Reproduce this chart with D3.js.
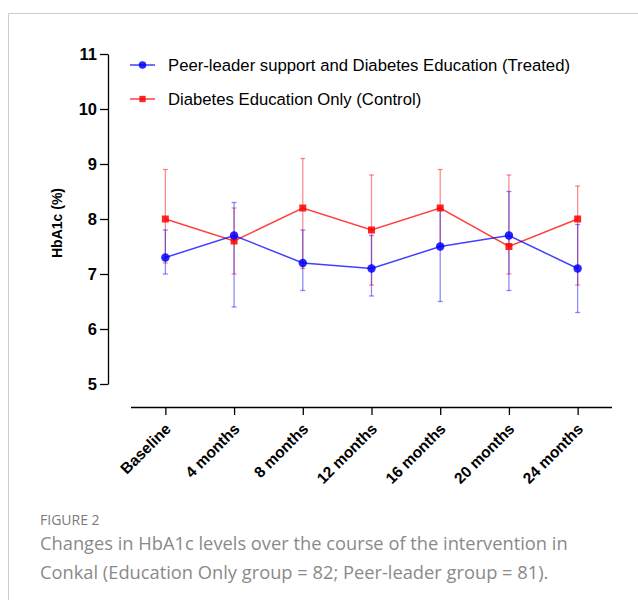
<!DOCTYPE html>
<html>
<head>
<meta charset="utf-8">
<script src="https://cdn.jsdelivr.net/npm/d3@7"></script>
<style>
  html, body { margin: 0; padding: 0; background: #fff; }
  svg { display: block; }
</style>
</head>
<body>
<svg id="chart" width="638" height="600"></svg>
<script>
// Time points of the intervention
const timepoints = ["Baseline", "4 months", "8 months", "12 months", "16 months", "20 months", "24 months"];

// Peer-leader support and Diabetes Education (Treated): mean, lower, upper
const treatedMean  = [7.3, 7.7, 7.2, 7.1, 7.5, 7.7, 7.1];
const treatedLow   = [7.0, 6.4, 6.7, 6.6, 6.5, 6.7, 6.3];
const treatedHigh  = [7.8, 8.3, 7.8, 7.7, 8.2, 8.5, 7.9];

// Diabetes Education Only (Control): mean, lower, upper
const controlMean  = [8.0, 7.6, 8.2, 7.8, 8.2, 7.5, 8.0];
const controlLow   = [7.2, 7.0, 7.1, 6.8, 7.5, 7.0, 6.8];
const controlHigh  = [8.9, 8.2, 9.1, 8.8, 8.9, 8.8, 8.6];

const yTicks = [5, 6, 7, 8, 9, 10, 11];

const seriesNames = [
  "Peer-leader support and Diabetes Education (Treated)",
  "Diabetes Education Only (Control)"
];

const series = [
  { name: seriesNames[1], mean: controlMean, low: controlLow, high: controlHigh, color: "#ff0000", shape: "square" },
  { name: seriesNames[0], mean: treatedMean, low: treatedLow, high: treatedHigh, color: "#0000ff", shape: "circle" }
];

const svg = d3.select("#chart");

// Panel frame
svg.append("path")
  .attr("d", "M8.5,600 L8.5,13.5 L638,13.5")
  .attr("fill", "none")
  .attr("stroke", "#cccccc")
  .attr("stroke-width", 1);

const x = d3.scalePoint().domain(timepoints).range([131, 612]).padding(0.5);
const y = d3.scaleLinear().domain([5, 11]).range([384, 54]);

// Y axis
const yAxis = svg.append("g")
  .attr("transform", "translate(108,0)")
  .call(d3.axisLeft(y).tickValues(yTicks).tickFormat(d3.format("d")).tickSize(8).tickSizeOuter(0));
yAxis.select(".domain").attr("stroke", "#000").attr("stroke-width", 1.3);
yAxis.selectAll(".tick line").attr("stroke", "#000").attr("stroke-width", 1.3);
yAxis.selectAll(".tick text")
  .attr("x", -11)
  .attr("font-family", "Liberation Sans, Arial, sans-serif")
  .attr("font-size", 16.5)
  .attr("font-weight", "bold")
  .attr("fill", "#000");

// X axis
const xAxis = svg.append("g")
  .attr("transform", "translate(0,407)")
  .call(d3.axisBottom(x).tickSize(8).tickSizeOuter(0));
xAxis.select(".domain").attr("stroke", "#000").attr("stroke-width", 1.3)
  .attr("d", "M131,0.5H612");
xAxis.selectAll(".tick line").attr("stroke", "#000").attr("stroke-width", 1.3);
xAxis.selectAll(".tick text")
  .attr("font-family", "Liberation Sans, Arial, sans-serif")
  .attr("font-size", 15.5)
  .attr("font-weight", "bold")
  .attr("fill", "#000")
  .attr("text-anchor", "end")
  .attr("dy", null)
  .attr("y", 0)
  .attr("transform", "translate(6,23) rotate(-45)");

// Y axis title
svg.append("text")
  .attr("transform", "translate(62,223) rotate(-90)")
  .attr("text-anchor", "middle")
  .attr("font-family", "Liberation Sans, Arial, sans-serif")
  .attr("font-size", 14)
  .attr("font-weight", "bold")
  .attr("fill", "#000")
  .text("HbA1c (%)");

const plot = svg.append("g");

// Error bars
series.forEach(s => {
  const g = plot.append("g").attr("stroke", s.color).attr("stroke-opacity", 0.45).attr("stroke-width", 1.3);
  timepoints.forEach((t, i) => {
    const cx = x(t);
    g.append("line").attr("x1", cx).attr("x2", cx).attr("y1", y(s.low[i])).attr("y2", y(s.high[i]));
    g.append("line").attr("x1", cx - 2.5).attr("x2", cx + 2.5).attr("y1", y(s.low[i])).attr("y2", y(s.low[i]));
    g.append("line").attr("x1", cx - 2.5).attr("x2", cx + 2.5).attr("y1", y(s.high[i])).attr("y2", y(s.high[i]));
  });
});

// Mean lines and markers
const line = d3.line().x((d, i) => x(timepoints[i])).y(d => y(d));
series.forEach(s => {
  plot.append("path")
    .attr("d", line(s.mean))
    .attr("fill", "none")
    .attr("stroke", s.color)
    .attr("stroke-opacity", 0.75)
    .attr("stroke-width", 1.5);
  const sym = d3.symbol().type(s.shape === "square" ? d3.symbolSquare : d3.symbolCircle)
    .size(s.shape === "square" ? 49 : 56);
  plot.append("g").selectAll("path")
    .data(s.mean)
    .join("path")
    .attr("transform", (d, i) => `translate(${x(timepoints[i])},${y(d)})`)
    .attr("d", sym)
    .attr("fill", s.color)
    .attr("fill-opacity", 0.85);
});

// Legend
const legendItems = [series[1], series[0]];
const legend = svg.append("g");
legendItems.forEach((s, i) => {
  const ly = 65 + i * 34;
  legend.append("line")
    .attr("x1", 130).attr("x2", 155).attr("y1", ly).attr("y2", ly)
    .attr("stroke", s.color).attr("stroke-opacity", 0.75).attr("stroke-width", 1.5);
  legend.append("path")
    .attr("transform", `translate(142.5,${ly})`)
    .attr("d", d3.symbol().type(s.shape === "square" ? d3.symbolSquare : d3.symbolCircle).size(s.shape === "square" ? 40 : 44))
    .attr("fill", s.color).attr("fill-opacity", 0.85);
  legend.append("text")
    .attr("x", 168).attr("y", ly)
    .attr("dy", "0.35em")
    .attr("font-family", "Liberation Sans, Arial, sans-serif")
    .attr("font-size", 16.7)
    .attr("fill", "#000")
    .text(s.name);
});

// Caption
svg.append("text")
  .attr("x", 40).attr("y", 525)
  .attr("font-family", "Open Sans, sans-serif")
  .attr("font-size", 14)
  .attr("fill", "#7a7a7a")
  .text("FIGURE 2");
const captionLines = [
  "Changes in HbA1c levels over the course of the intervention in",
  "Conkal (Education Only group = 82; Peer-leader group = 81)."
];
svg.append("g").selectAll("text")
  .data(captionLines)
  .join("text")
  .attr("x", 40)
  .attr("y", (d, i) => 550 + i * 29)
  .attr("font-family", "Open Sans, sans-serif")
  .attr("font-size", 18.3)
  .attr("fill", "#8a8a8a")
  .text(d => d);
</script>
</body>
</html>
